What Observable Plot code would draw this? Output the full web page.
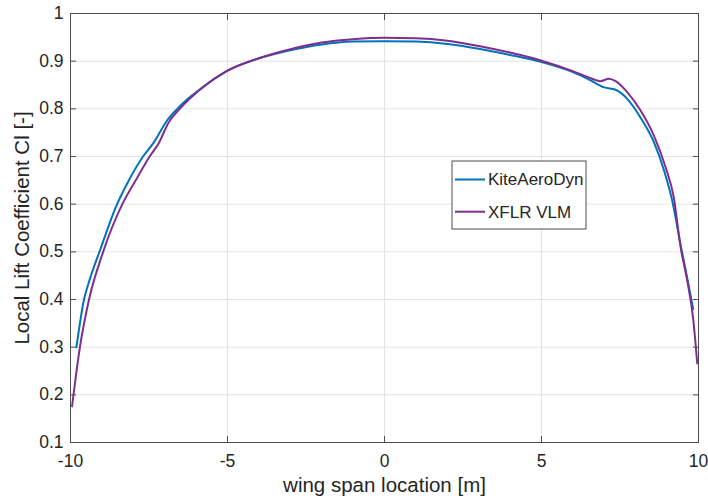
<!DOCTYPE html>
<html>
<head>
<meta charset="utf-8">
<script src="https://cdn.jsdelivr.net/npm/d3@7"></script>
<script src="https://cdn.jsdelivr.net/npm/@observablehq/plot@0.6"></script>
<style>
  html, body { margin: 0; padding: 0; background: #fff; }
  #chart { width: 708px; height: 498px; }
</style>
</head>
<body>
<div id="chart"></div>
<script>
const xTicks = [-10, -5, 0, 5, 10];
const yTicks = [0.1, 0.2, 0.3, 0.4, 0.5, 0.6, 0.7, 0.8, 0.9, 1];
const seriesNames = ["KiteAeroDyn", "XFLR VLM"];
const seriesColors = ["#0072BD", "#7E2F8E"];

const kiteX = [-9.81, -9.57, -9.42, -9.04, -8.55, -8.19, -7.69, -7.35, -6.92, -6.60, -6.28, -5.86, -5.0, -4.0, -3.0, -2.0, -1.0, 0.0, 1.0, 2.0, 3.0, 4.0, 5.0, 6.0, 6.5, 7.0, 7.36, 7.73, 8.15, 8.58, 8.90, 9.16, 9.43, 9.64, 9.83];
const kiteY = [0.300, 0.400, 0.435, 0.507, 0.595, 0.644, 0.700, 0.729, 0.776, 0.800, 0.820, 0.842, 0.880, 0.906, 0.923, 0.935, 0.941, 0.942, 0.941, 0.936, 0.926, 0.913, 0.898, 0.877, 0.862, 0.845, 0.840, 0.821, 0.782, 0.730, 0.671, 0.608, 0.515, 0.445, 0.380];

const xflrX = [-9.95, -9.70, -9.41, -8.96, -8.35, -7.88, -7.48, -7.19, -6.87, -6.52, -5.86, -5.0, -4.0, -3.0, -2.0, -1.0, 0.0, 1.0, 2.0, 3.0, 4.0, 5.0, 6.0, 6.5, 6.88, 7.14, 7.36, 7.73, 8.15, 8.58, 8.95, 9.21, 9.43, 9.64, 9.83, 9.96];
const xflrY = [0.176, 0.300, 0.400, 0.500, 0.600, 0.655, 0.700, 0.728, 0.772, 0.800, 0.841, 0.880, 0.906, 0.925, 0.939, 0.946, 0.949, 0.948, 0.943, 0.932, 0.918, 0.901, 0.879, 0.866, 0.858, 0.863, 0.858, 0.835, 0.797, 0.744, 0.678, 0.615, 0.510, 0.440, 0.360, 0.266];

const kite = kiteX.map((x, i) => ({x, y: kiteY[i]}));
const xflr = xflrX.map((x, i) => ({x, y: xflrY[i]}));

const font = "'Liberation Sans', Arial, Helvetica, sans-serif";
const axisColor = "#4d4d4d";
const textColor = "#262626";
const gridColor = "#e3e3e3";

const chart = Plot.plot({
  width: 708,
  height: 498,
  marginLeft: 70,
  marginRight: 10,
  marginTop: 13,
  marginBottom: 56,
  style: {fontFamily: font, color: textColor, background: "#fff"},
  x: {domain: [-10, 10]},
  y: {domain: [0.1, 1]},
  marks: [
    Plot.gridX(xTicks, {stroke: gridColor, strokeOpacity: 1}),
    Plot.gridY(yTicks, {stroke: gridColor, strokeOpacity: 1}),
    Plot.line(kite, {x: "x", y: "y", stroke: seriesColors[0], strokeWidth: 2, curve: "monotone-x"}),
    Plot.line(xflr, {x: "x", y: "y", stroke: seriesColors[1], strokeWidth: 2, curve: "monotone-x"}),
    Plot.frame({stroke: axisColor}),
    Plot.axisX(xTicks, {tickSize: 0, tickPadding: 12, fontSize: 17.5, tickFormat: d => String(d), label: null, fill: textColor}),
    Plot.axisX(xTicks, {tickSize: 6, dy: -6, tickFormat: () => "", label: null, stroke: axisColor}),
    Plot.axisX(xTicks, {anchor: "top", tickSize: 6, dy: 6, tickFormat: () => "", label: null, stroke: axisColor}),
    Plot.axisY(yTicks, {tickSize: 0, tickPadding: 7, fontSize: 17.5, tickFormat: d => d === 1 ? "1" : d.toFixed(1), label: null, fill: textColor}),
    Plot.axisY(yTicks, {tickSize: 6, dx: 6, tickFormat: () => "", label: null, stroke: axisColor}),
    Plot.axisY(yTicks, {anchor: "right", tickSize: 6, dx: -6, tickFormat: () => "", label: null, stroke: axisColor}),
    Plot.text(["wing span location [m]"], {frameAnchor: "bottom", dy: 49, fontSize: 20.5, fill: textColor, text: d => d}),
    Plot.text(["Local Lift Coefficient Cl [-]"], {frameAnchor: "left", textAnchor: "middle", rotate: -90, dx: -48, fontSize: 20.5, fill: textColor, text: d => d})
  ]
});

document.getElementById("chart").appendChild(chart);

// Legend box inside the plot
const svg = d3.select(chart);
const lg = svg.append("g").attr("font-family", font).attr("font-size", 17).attr("text-anchor", "start");
lg.append("rect").attr("x", 452).attr("y", 161).attr("width", 134).attr("height", 68)
  .attr("fill", "#fff").attr("stroke", axisColor).attr("stroke-width", 1);
seriesNames.forEach((name, i) => {
  const cy = 179.5 + i * 32.2;
  lg.append("line").attr("x1", 455).attr("x2", 485).attr("y1", cy).attr("y2", cy)
    .attr("stroke", seriesColors[i]).attr("stroke-width", 2);
  lg.append("text").attr("x", 488).attr("y", cy).attr("dy", "0.35em")
    .attr("text-anchor", "start").attr("fill", textColor).text(name);
});
</script>
</body>
</html>
